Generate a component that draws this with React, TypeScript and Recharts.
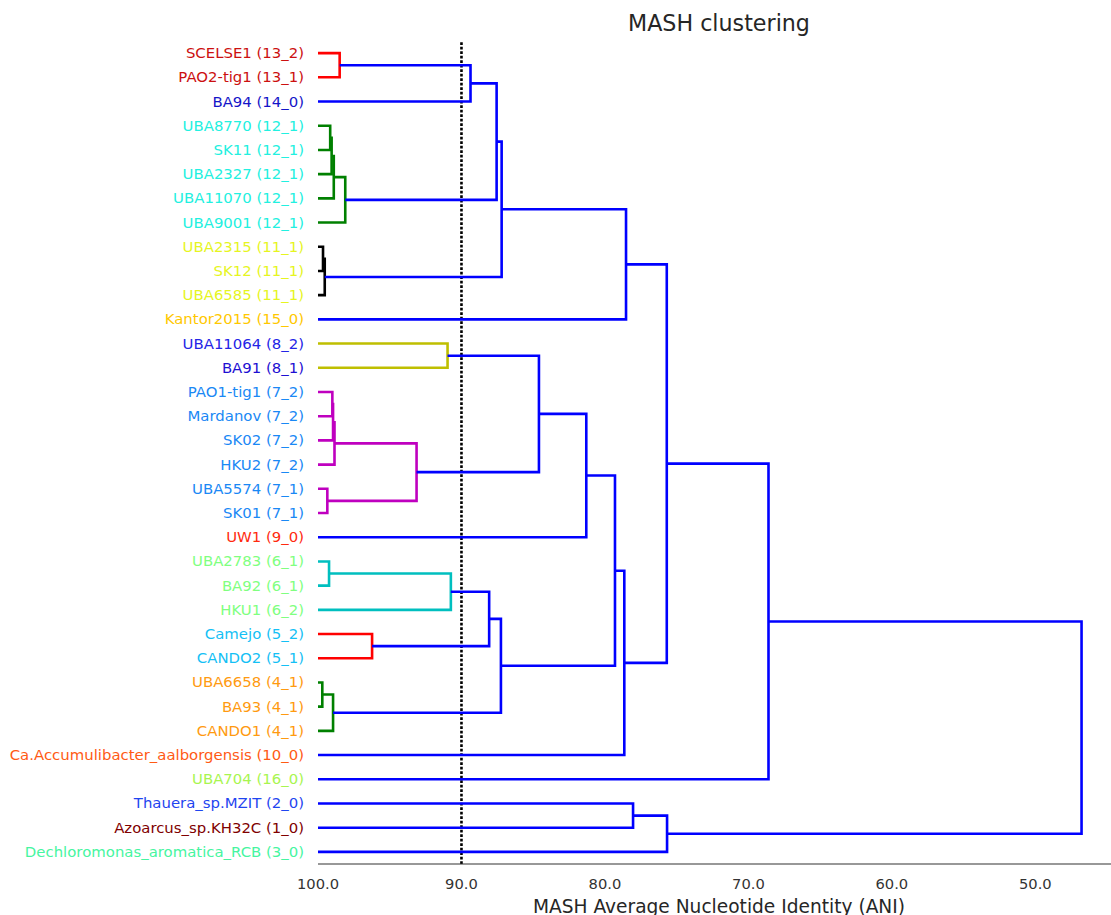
import { ScatterChart, Scatter, XAxis, YAxis, ReferenceLine } from "recharts";

// leaves, top to bottom
const leafLabels = [
  "SCELSE1 (13_2)",
  "PAO2-tig1 (13_1)",
  "BA94 (14_0)",
  "UBA8770 (12_1)",
  "SK11 (12_1)",
  "UBA2327 (12_1)",
  "UBA11070 (12_1)",
  "UBA9001 (12_1)",
  "UBA2315 (11_1)",
  "SK12 (11_1)",
  "UBA6585 (11_1)",
  "Kantor2015 (15_0)",
  "UBA11064 (8_2)",
  "BA91 (8_1)",
  "PAO1-tig1 (7_2)",
  "Mardanov (7_2)",
  "SK02 (7_2)",
  "HKU2 (7_2)",
  "UBA5574 (7_1)",
  "SK01 (7_1)",
  "UW1 (9_0)",
  "UBA2783 (6_1)",
  "BA92 (6_1)",
  "HKU1 (6_2)",
  "Camejo (5_2)",
  "CANDO2 (5_1)",
  "UBA6658 (4_1)",
  "BA93 (4_1)",
  "CANDO1 (4_1)",
  "Ca.Accumulibacter_aalborgensis (10_0)",
  "UBA704 (16_0)",
  "Thauera_sp.MZIT (2_0)",
  "Azoarcus_sp.KH32C (1_0)",
  "Dechloromonas_aromatica_RCB (3_0)",
];

const leafColors = [
  "#cc1010", "#cc1010", "#1414c8",
  "#22f0e0", "#22f0e0", "#22f0e0", "#22f0e0", "#22f0e0",
  "#e6f51f", "#e6f51f", "#e6f51f",
  "#ffc800",
  "#2424e6", "#1e0fd2",
  "#1a88f5", "#1a88f5", "#1a88f5", "#1a88f5", "#1a88f5", "#1a88f5",
  "#ff2a10",
  "#80ff80", "#80ff80", "#80ff80",
  "#14c0f5", "#14c0f5",
  "#ff9a10", "#ff9a10", "#ff9a10",
  "#ff5a14",
  "#a8f550",
  "#1f45f0",
  "#800000",
  "#46f5a0",
];

// [child A, child B, ANI]; merge k becomes node 34 + k
const merges: [number, number, number][] = [
  [0, 1, 98.49],   // 34
  [34, 2, 89.37],  // 35
  [3, 4, 99.15],   // 36
  [36, 5, 99.05],  // 37
  [37, 6, 98.9],   // 38
  [38, 7, 98.1],   // 39
  [35, 39, 87.55], // 40
  [8, 9, 99.65],   // 41
  [41, 10, 99.53], // 42
  [40, 42, 87.2],  // 43
  [43, 11, 78.53], // 44
  [12, 13, 90.97], // 45
  [14, 15, 99.0],  // 46
  [46, 16, 98.95], // 47
  [47, 17, 98.85], // 48
  [18, 19, 99.35], // 49
  [48, 49, 93.13], // 50
  [45, 50, 84.6],  // 51
  [51, 20, 81.3],  // 52
  [21, 22, 99.23], // 53
  [53, 23, 90.74], // 54
  [24, 25, 96.23], // 55
  [54, 55, 88.07], // 56
  [26, 27, 99.7],  // 57
  [57, 28, 98.95], // 58
  [56, 58, 87.25], // 59
  [52, 59, 79.3],  // 60
  [60, 29, 78.65], // 61
  [44, 61, 75.69], // 62
  [62, 30, 68.6],  // 63
  [31, 32, 78.04], // 64
  [64, 33, 75.67], // 65
  [63, 65, 46.78], // 66
];

const linkColors = [
  "#ff0000", "#0000ff",
  "#008000", "#008000", "#008000", "#008000",
  "#0000ff",
  "#000000", "#000000",
  "#0000ff", "#0000ff",
  "#bfbf00",
  "#bf00bf", "#bf00bf", "#bf00bf", "#bf00bf", "#bf00bf",
  "#0000ff", "#0000ff",
  "#00bfbf", "#00bfbf",
  "#ff0000",
  "#0000ff",
  "#008000", "#008000",
  "#0000ff", "#0000ff", "#0000ff", "#0000ff", "#0000ff", "#0000ff", "#0000ff", "#0000ff",
];

const xTicks = [100, 90, 80, 70, 60, 50];
const threshold = 90;

// build the U-shaped links like scipy's dendrogram
const leafY = leafLabels.map((_, i) => 5 + 10 * i);
const nodeY: number[] = [...leafY];
const nodeX: number[] = leafLabels.map(() => 100);
const links = merges.map(([a, b, h], k) => {
  const pts = [
    { x: nodeX[a], y: nodeY[a] },
    { x: h, y: nodeY[a] },
    { x: h, y: nodeY[b] },
    { x: nodeX[b], y: nodeY[b] },
  ];
  nodeY.push((nodeY[a] + nodeY[b]) / 2);
  nodeX.push(h);
  return { pts, color: linkColors[k] };
});

const FONT = "'DejaVu Sans', sans-serif";

const LeafTick = ({ x, y, payload }: any) => {
  const i = Math.round((payload.value - 5) / 10);
  return (
    <text
      x={x}
      y={y}
      textAnchor="end"
      dominantBaseline="central"
      fill={leafColors[i]}
      style={{ fontSize: 14.9, fontFamily: FONT }}
    >
      {leafLabels[i]}
    </text>
  );
};

export default function App() {
  return (
    <div
      style={{
        position: "absolute",
        left: 0,
        top: 0,
        width: 1111,
        height: 915,
        overflow: "hidden",
        background: "#fff",
      }}
    >
      <ScatterChart
        width={1130}
        height={915}
        margin={{ top: 41, right: 10, bottom: 0, left: 0 }}
      >
        <XAxis
          type="number"
          dataKey="x"
          domain={[44.1, 100]}
          reversed
          ticks={xTicks}
          tickFormatter={(v: number) => v.toFixed(1)}
          tickLine={false}
          tickMargin={9}
          height={51}
          axisLine={{ stroke: "#333", strokeWidth: 1.2 }}
          tick={{ fill: "#333", fontSize: 14.7, fontFamily: FONT }}
        />
        <YAxis
          type="number"
          dataKey="y"
          domain={[0, 340]}
          reversed
          ticks={leafY}
          interval={0}
          width={318}
          axisLine={false}
          tickLine={false}
          tickMargin={8}
          tick={<LeafTick />}
        />
        {links.map((l, i) => (
          <Scatter
            key={i}
            data={l.pts}
            line={{ stroke: l.color, strokeWidth: 2.6 }}
            shape={() => <g />}
            fill={l.color}
            isAnimationActive={false}
          />
        ))}
        <ReferenceLine
          x={threshold}
          stroke="#000"
          strokeWidth={2.6}
          strokeDasharray="2.7 1.8"
        />
        <text
          x={719}
          y={23}
          textAnchor="middle"
          dominantBaseline="central"
          fill="#262626"
          style={{ fontSize: 22.2, fontFamily: FONT }}
        >
          MASH clustering
        </text>
        <text
          x={719}
          y={913}
          textAnchor="middle"
          fill="#262626"
          style={{ fontSize: 18.6, fontFamily: FONT }}
        >
          MASH Average Nucleotide Identity (ANI)
        </text>
      </ScatterChart>
    </div>
  );
}
